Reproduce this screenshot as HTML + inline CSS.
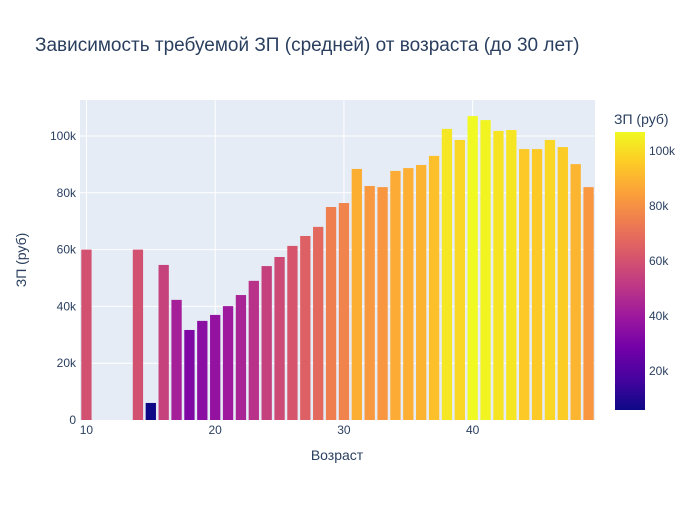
<!DOCTYPE html>
<html><head><meta charset="utf-8">
<style>
body{margin:0;background:#fff;font-family:"Liberation Sans","DejaVu Sans",sans-serif;}
svg text{font-family:"Liberation Sans","DejaVu Sans",sans-serif;fill:#2a3f5f;}
</style></head>
<body>
<svg id="chart" width="700" height="500">
<defs>
<linearGradient id="plasma" x1="0" y1="1" x2="0" y2="0">
<stop offset="0" stop-color="#0d0887"/><stop offset="0.111" stop-color="#46039f"/>
<stop offset="0.222" stop-color="#7201a8"/><stop offset="0.333" stop-color="#9c179e"/>
<stop offset="0.444" stop-color="#bd3786"/><stop offset="0.555" stop-color="#d8576b"/>
<stop offset="0.666" stop-color="#ed7953"/><stop offset="0.777" stop-color="#fb9f3a"/>
<stop offset="0.888" stop-color="#fdca26"/><stop offset="1" stop-color="#f0f921"/>
</linearGradient>
</defs>
<rect x="80" y="100" width="515" height="320" fill="#e5ecf6"/>
<g id="grid"></g><g id="bars"></g><g id="axes"></g>
<text x="35" y="51" font-size="19">Зависимость требуемой ЗП (средней) от возраста (до 30 лет)</text>
<text x="337" y="460" font-size="14" text-anchor="middle">Возраст</text>
<text transform="translate(26,260) rotate(-90)" font-size="14" text-anchor="middle">ЗП (руб)</text>
<text x="614" y="124" font-size="14">ЗП (руб)</text>
<rect x="615" y="132" width="30" height="278" fill="url(#plasma)"/>
<g id="cbticks"></g>
</svg>
<script>
const ages=[10,14,15,16,17,18,19,20,21,22,23,24,25,26,27,28,29,30,31,32,33,34,35,36,37,38,39,40,41,42,43,44,45,46,47,48,49];
const salaries=[60,60,6,54.6,42.3,31.7,34.9,37,40.1,44,49,54.2,57.4,61.3,64.8,68,75,76.4,88.4,82.4,82,87.7,88.7,89.8,93,102.5,98.6,107,105.6,101.8,102.1,95.4,95.4,98.6,96.1,90.1,82];
const xTicks=[10,20,30,40];
const yTicks=[0,20,40,60,80,100];
const cbTicks=[20,40,60,80,100];
const ns="http://www.w3.org/2000/svg";
const X=v=>80+(v-9.5)*12.875;
const Y=v=>420-v*2.84;
const cmin=5.8,cmax=106.9;
const CB=v=>410-(v-cmin)*(278/(cmax-cmin));
const stops=["#0d0887","#46039f","#7201a8","#9c179e","#bd3786","#d8576b","#ed7953","#fb9f3a","#fdca26","#f0f921"];
function hex(h){return [1,3,5].map(i=>parseInt(h.substr(i,2),16));}
function color(v){let t=Math.max(0,Math.min(1,(v-cmin)/(cmax-cmin)))*(stops.length-1);let i=Math.min(Math.floor(t),stops.length-2),f=t-i;const a=hex(stops[i]),b=hex(stops[i+1]);return "rgb("+a.map((c,k)=>Math.round(c+(b[k]-c)*f)).join(",")+")";}
function mk(tag,attrs,parent,txt){const e=document.createElementNS(ns,tag);for(const k in attrs)e.setAttribute(k,attrs[k]);if(txt!==undefined)e.textContent=txt;document.getElementById(parent).appendChild(e);return e;}
yTicks.forEach(t=>{
 if(t>0){const l=mk("line",{x1:80,x2:595,y1:Y(t),y2:Y(t),stroke:"#fff","stroke-width":1},"grid");
 
 }
 const tx=mk("text",{x:76,y:Y(t)+4,"font-size":12,"text-anchor":"end"},"axes",t===0?"0":t+"k");
 
 
});
xTicks.forEach(t=>{
 const l=mk("line",{x1:X(t),x2:X(t),y1:100,y2:420,stroke:"#fff","stroke-width":1},"grid");
 
 
 const tx=mk("text",{x:X(t),y:434,"font-size":12,"text-anchor":"middle"},"axes",t);
 
 
});
ages.forEach((a,i)=>{
 const v=salaries[i];
 const r=mk("rect",{x:X(a)-5.15,y:Y(v),width:10.3,height:420-Y(v),fill:color(v)},"bars");
 
 
});
cbTicks.forEach(t=>{
 const tx=mk("text",{x:649,y:CB(t)+4,"font-size":12},"cbticks",t+"k");
 
 
});
</script>
</body></html>
